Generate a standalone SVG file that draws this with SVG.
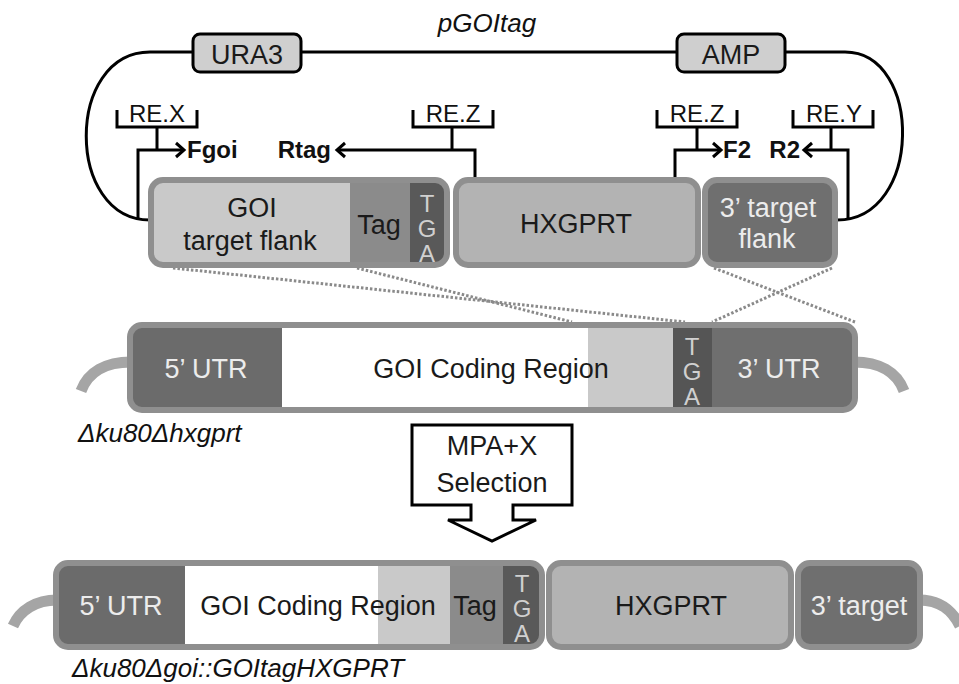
<svg xmlns="http://www.w3.org/2000/svg" width="959" height="684" viewBox="0 0 959 684">
<style>
text{font-family:"Liberation Sans",Arial,sans-serif;}
.lbl{font-size:27px;fill:#1a1a1a;text-anchor:middle;}
.lt{font-size:27px;fill:#ececec;text-anchor:middle;}
.tga{font-size:24px;fill:#d0d0d0;writing-mode:vertical-rl;text-orientation:upright;letter-spacing:-2px;}
.re{font-size:24px;fill:#111;text-anchor:middle;}
.pr{font-size:24px;font-weight:bold;fill:#111;}
.it{font-style:italic;font-size:26px;fill:#111;}
.ln{fill:none;stroke:#000;stroke-width:3;}
.br{fill:none;stroke:#000;stroke-width:3;stroke-linejoin:miter;}
.bd{fill:none;stroke:#8f8f8f;stroke-width:6;}
.dot{fill:none;stroke:#8a8a8a;stroke-width:3;stroke-dasharray:2.5 2;}
.tail{fill:none;stroke:#a5a5a5;stroke-width:11;}
.mk{fill:#cfcfcf;stroke:#000;stroke-width:3;}
</style>
<defs>
<clipPath id="c1"><rect x="151" y="180" width="296" height="85" rx="12"/></clipPath>
<clipPath id="c2"><rect x="130" y="325" width="725" height="85" rx="12"/></clipPath>
<clipPath id="c3"><rect x="56" y="563" width="486" height="84" rx="12"/></clipPath>
</defs>

<!-- plasmid backbone -->
<g id="backbone">
<path class="ln" d="M193,52 H150 C65,52 65,220 150,220"/>
<path class="ln" d="M193,52 H785"/>
<path class="ln" d="M785,52 H845 C923,52 923,220 837,220"/>
<text class="it" x="487" y="32" text-anchor="middle" font-size="25">pGOItag</text>
</g>
<g id="ura3"><rect class="mk" x="193" y="34" width="108" height="38" rx="7"/><text class="lbl" x="247" y="64">URA3</text></g>
<g id="amp"><rect class="mk" x="677" y="34" width="108" height="38" rx="7"/><text class="lbl" x="731" y="64">AMP</text></g>

<!-- connectors: primers and restriction sites -->
<g id="connectors">
<path class="ln" d="M138,220 V150 H183"/>
<path class="ln" d="M176,143 L184,150 L176,157"/>
<path class="ln" d="M475,182 V150 H337"/>
<path class="ln" d="M345,143 L337,150 L345,157"/>
<path class="ln" d="M675,180 V150 H720"/>
<path class="ln" d="M713,143 L721,150 L713,157"/>
<path class="ln" d="M848,220 V150 H804"/>
<path class="ln" d="M812,143 L804,150 L812,157"/>
<path class="br" d="M117,110 V127 H197 V110 M157,127 V150"/>
<path class="br" d="M413,110 V127 H493 V110 M452,127 V150"/>
<path class="br" d="M657,110 V127 H737 V110 M697,127 V150"/>
<path class="br" d="M793,110 V127 H873 V110 M831,127 V150"/>
<path class="dot" d="M173,268 L685,322"/>
<path class="dot" d="M357,268 L572,322"/>
<path class="dot" d="M714,268 L855,322"/>
<path class="dot" d="M832,268 L712,322"/>
</g>
<g id="primers">
<text class="re" x="157" y="122">RE.X</text>
<text class="re" x="453" y="122">RE.Z</text>
<text class="re" x="697" y="122">RE.Z</text>
<text class="re" x="834" y="122">RE.Y</text>
<text class="pr" x="187" y="158">Fgoi</text>
<text class="pr" x="331" y="158" text-anchor="end">Rtag</text>
<text class="pr" x="723" y="158">F2</text>
<text class="pr" x="800" y="158" text-anchor="end">R2</text>
</g>

<!-- top construct -->
<g id="goi-flank">
<g clip-path="url(#c1)">
<rect x="140" y="170" width="210" height="110" fill="#c9c9c9"/>
<rect x="350" y="170" width="60" height="110" fill="#8b8b8b"/>
<rect x="410" y="170" width="40" height="110" fill="#595959"/>
</g>
<rect class="bd" x="151" y="180" width="296" height="85" rx="12"/>
<text class="lbl" x="252" y="217">GOI</text>
<text class="lbl" x="250" y="250">target flank</text>
<text class="lbl" x="379" y="234">Tag</text>
<text class="tga" x="427" y="190">TGA</text>
</g>
<g id="hxgprt-top">
<rect x="456" y="180" width="242" height="85" rx="12" fill="#b3b3b3"/>
<rect class="bd" x="456" y="180" width="242" height="85" rx="12"/>
<text class="lbl" x="576" y="233">HXGPRT</text>
</g>
<g id="flank3">
<rect x="705" y="180" width="130" height="85" rx="12" fill="#6f6f6f"/>
<rect class="bd" x="705" y="180" width="130" height="85" rx="12"/>
<text class="lt" x="768" y="217">3’ target</text>
<text class="lt" x="767" y="248">flank</text>
</g>

<!-- genomic locus -->
<g id="locus">
<path class="tail" d="M131,362 C106,362 88,372 81,391"/>
<path class="tail" d="M854,362 C879,362 897,372 904,391"/>
<g clip-path="url(#c2)">
<rect x="120" y="315" width="162" height="110" fill="#6b6b6b"/>
<rect x="282" y="315" width="306" height="110" fill="#ffffff"/>
<rect x="588" y="315" width="85" height="110" fill="#c9c9c9"/>
<rect x="673" y="315" width="39" height="110" fill="#555555"/>
<rect x="712" y="315" width="150" height="110" fill="#6f6f6f"/>
</g>
<rect class="bd" x="130" y="325" width="725" height="85" rx="12"/>
<text class="lt" x="206" y="378">5’ UTR</text>
<text class="lbl" x="491" y="378">GOI Coding Region</text>
<text class="tga" x="692" y="333">TGA</text>
<text class="lt" x="779" y="378">3’ UTR</text>
<text class="it" x="78" y="442">Δku80Δhxgprt</text>
</g>

<!-- selection arrow -->
<g id="selection">
<path d="M412,425 H572 V505 H513 V520 H536 L492,541 L448,520 H471 V505 H412 Z" fill="#fff" stroke="#000" stroke-width="3" stroke-linejoin="miter"/>
<text class="lbl" x="492" y="455" font-size="26">MPA+X</text>
<text class="lbl" x="492" y="492" font-size="26">Selection</text>
</g>

<!-- integrated locus -->
<g id="result">
<path class="tail" d="M57,600 C36,600 20,610 13,626"/>
<path class="tail" d="M919,600 C940,600 952,610 960,626"/>
<g clip-path="url(#c3)">
<rect x="46" y="553" width="139" height="105" fill="#6b6b6b"/>
<rect x="185" y="553" width="193" height="105" fill="#ffffff"/>
<rect x="378" y="553" width="72" height="105" fill="#c9c9c9"/>
<rect x="450" y="553" width="53" height="105" fill="#8b8b8b"/>
<rect x="503" y="553" width="50" height="105" fill="#595959"/>
</g>
<rect class="bd" x="56" y="563" width="486" height="84" rx="12"/>
<text class="lt" x="121" y="615">5’ UTR</text>
<text class="lbl" x="318" y="615">GOI Coding Region</text>
<text class="lbl" x="475" y="615">Tag</text>
<text class="tga" x="522" y="570">TGA</text>
</g>
<g id="hxgprt-bottom">
<rect x="549" y="563" width="242" height="84" rx="12" fill="#b3b3b3"/>
<rect class="bd" x="549" y="563" width="242" height="84" rx="12"/>
<text class="lbl" x="671" y="615">HXGPRT</text>
</g>
<g id="target3">
<rect x="798" y="563" width="122" height="84" rx="12" fill="#6f6f6f"/>
<rect class="bd" x="798" y="563" width="122" height="84" rx="12"/>
<text class="lt" x="859" y="615">3’ target</text>
</g>
<text class="it" x="72" y="677" font-size="27">Δku80Δgoi::GOItagHXGPRT</text>
</svg>
